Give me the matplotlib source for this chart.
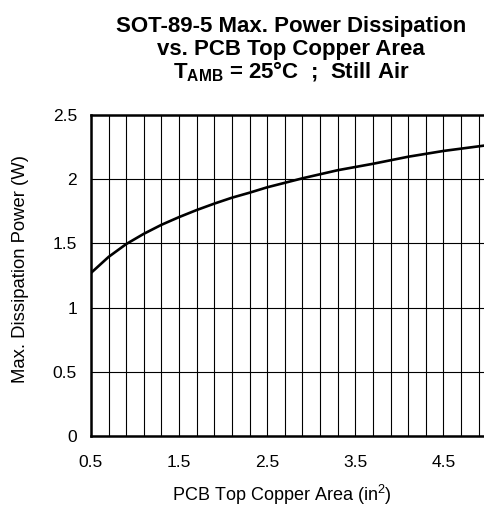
import numpy as np
import matplotlib
matplotlib.use("Agg")
import matplotlib.pyplot as plt

# curve
area = [0.5, 0.7, 0.9, 1.1, 1.3, 1.5, 1.7, 1.9, 2.1, 2.3, 2.5, 2.9, 3.3, 3.7, 4.1, 4.5, 5.0]
power = [1.27, 1.395, 1.495, 1.575, 1.645, 1.705, 1.76, 1.81, 1.856, 1.895, 1.937,
         2.007, 2.07, 2.12, 2.175, 2.22, 2.265]

x_ticks = [0.5, 1.5, 2.5, 3.5, 4.5]
y_ticks = [0, 0.5, 1, 1.5, 2, 2.5]
y_labels = ['0', '0.5', '1', '1.5', '2', '2.5']

title_lines = ['SOT-89-5 Max. Power Dissipation',
               'vs. PCB Top Copper Area',
               'T$_{\\mathbf{AMB}}$ = 25°C  ;  Still Air']

plt.rcParams['font.family'] = ['Liberation Sans', 'DejaVu Sans']
plt.rcParams['mathtext.fontset'] = 'custom'
plt.rcParams['mathtext.rm'] = 'Liberation Sans'
plt.rcParams['mathtext.bf'] = 'Liberation Sans:bold'
plt.rcParams['mathtext.it'] = 'Liberation Sans:italic'

fig = plt.figure(figsize=(4.85, 5.07), dpi=100)
ax = fig.add_axes([91/485, 71/507, 396.5/485, 321/507])

ax.plot(area, power, color='black', lw=1.9, solid_capstyle='butt')

ax.set_xlim(0.5, 5.0)
ax.set_ylim(0, 2.5)
ax.set_xticks(x_ticks)
ax.set_xticklabels([str(v) for v in x_ticks])
ax.set_yticks(y_ticks)
ax.set_yticklabels(y_labels)
ax.set_xticks(np.arange(0.5, 5.01, 0.2), minor=True)

ax.grid(True, which='both', axis='x', color='black', lw=0.8)
ax.grid(True, which='major', axis='y', color='black', lw=0.8)
ax.tick_params(which='both', length=0, labelsize=12.5, colors='black')
ax.tick_params(axis='x', pad=14)
ax.tick_params(axis='y', pad=10)

for s in ['left', 'bottom', 'top']:
    ax.spines[s].set_linewidth(1.8)
ax.spines['right'].set_visible(False)

ax.set_xlabel('PCB Top Copper Area (in$^2$)', fontsize=13, va='center')
ax.xaxis.set_label_coords(0.482, -0.184)
ax.set_ylabel('Max. Dissipation Power (W)', fontsize=13.3, va='center')
ax.yaxis.set_label_coords(-0.179, 0.52)

for txt, base in zip(title_lines, [32, 55, 78]):
    fig.text(0.6, 1 - base/507, txt, ha='center', va='baseline',
             fontsize=16, fontweight='bold')

fig.savefig('out.png', dpi=100)
